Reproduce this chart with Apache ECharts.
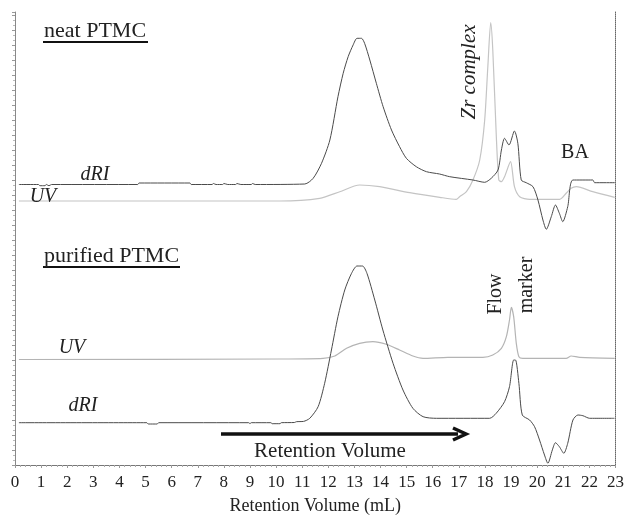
<!DOCTYPE html>
<html>
<head>
<meta charset="utf-8">
<script src="https://cdn.jsdelivr.net/npm/echarts@6/dist/echarts.min.js"></script>
<style>
html,body{margin:0;padding:0;background:#fff;}
#chart{width:627px;height:521px;}
</style>
</head>
<body>
<div id="chart"></div>
<script>
// retention volume (mL) vs detector signal (arbitrary offset units)
var neatDRI = [[0.15,280.5],[0.9,280.5],[0.95,279.3],[1.15,279.3],[1.2,280.5],[1.3,279.3],[1.4,280.5],[4.7,280.5],[4.75,282],[6.7,282],[6.75,280.5],
    [7.55,280.5],[7.6,281.5],[7.7,280.5],[7.95,280.5],[8.0,281.5],[8.15,280.5],[8.45,280.5],[8.5,281.5],[8.65,280.5],[9.05,280.5],[9.1,281.5],[9.2,280.5],
    [11.1,281],[11.42,286.7],[11.74,301.7],[12.06,325],[12.37,368.3],[12.57,391.7],[12.76,408.3],[12.95,420],[13.1,426.7],[13.27,426.7],
    [13.39,421.7],[13.59,405],[13.84,381.7],[14.1,358.3],[14.42,335],[14.73,318.3],[14.99,306.7],[15.37,298.3],[15.76,293.3],[16.26,291],
    [16.65,288.3],[17.54,285],[17.99,282.7],[18.24,286.7],[18.5,295],[18.63,315],[18.75,326.7],[18.92,320],[19.13,334],[19.26,321.7],
    [19.39,285],[19.58,282.3],[19.84,278.3],[20.03,265],[20.22,245],[20.35,235.7],[20.54,248.3],[20.7,260],[20.85,251.7],[20.98,243.3],
    [21.17,258.3],[21.37,285],[22.13,285],[22.2,282.3],[22.97,282.3]];
var neatUV = [[0.15,264],[10.14,264],[11.67,266.7],[12.44,273.3],[13.2,280],[13.97,278.3],[15.12,272.3],[16.27,267.7],[16.9,265.7],
    [17.03,268.3],[17.29,273.3],[17.54,285],[17.8,305],[17.99,345],[18.11,398.3],[18.22,442.3],[18.3,415],[18.43,331.7],[18.53,285],
    [18.63,283.3],[18.75,288.3],[18.98,303.3],[19.13,278.3],[19.33,268.3],[19.71,265.7],[20.86,265.7],[21.11,271.7],[21.3,276.7],
    [21.5,278.3],[22.13,273.3],[22.97,267.7]];
var purUV = [[0.15,105.5],[10.14,106],[11.8,106.7],[12.25,109],[12.7,116.7],[13.2,121.7],[13.71,123.3],[14.22,120.7],[14.73,115],
    [15.24,109],[15.63,106.7],[16.58,107.7],[17.92,107.7],[18.3,110],[18.63,116.7],[18.82,128.3],[18.94,145],[19.01,157.7],[19.1,148.3],
    [19.2,121.7],[19.3,108.3],[19.45,106.7],[21.11,106.7],[21.3,109],[21.63,107.7],[22.97,106.7]];
var purDRI = [[0.15,42.3],[5.05,42.3],[5.1,41],[5.45,41],[5.5,42.3],[8.95,42.3],[9.0,41.3],[9.05,42.3],[9.8,42.3],[9.85,41.3],[10.15,41.3],
    [10.2,42.3],[10.7,42.5],[10.78,43.3],[11.05,43.6],[11.29,46.7],[11.61,58.3],[11.86,81.7],[12.12,115],[12.37,148.3],[12.63,175],
    [12.89,191.7],[13.1,199],[13.31,199],[13.48,191.7],[13.78,165],[14.09,135],[14.48,101.7],[14.86,75],[15.24,56.7],[15.63,48.3],
    [16.14,46.7],[18.18,46.7],[18.43,51.7],[18.75,63.3],[18.94,78.3],[19.1,105],[19.17,105],[19.3,81.7],[19.43,50],[19.71,45],
    [19.9,38.3],[20.09,25],[20.28,10],[20.41,1.7],[20.58,15],[20.7,22.3],[20.85,18.3],[21.02,11.7],[21.17,21.7],[21.37,45],[21.56,50],
    [21.75,49.3],[22.01,46.7],[22.96,46.7]];

var serif = '"Liberation Serif", "DejaVu Serif", serif';

function txt(s, x, y, opt) {
    opt = opt || {};
    return {
        type: 'text', x: x, y: y, rotation: opt.rot || 0, z: 10,
        style: {
            text: s, fill: '#222', font: (opt.italic ? 'italic ' : '') + (opt.size || 20) + 'px ' + serif,
            align: opt.align || 'center', verticalAlign: 'middle'
        }
    };
}

function trace(data, color, w) {
    return {type: 'line', data: data, showSymbol: false, smooth: 0.25,
        lineStyle: {color: color, width: w}};
}

var myChart = echarts.init(document.getElementById('chart'));
myChart.setOption({
    animation: false,
    grid: {left: 15, right: 11, top: 12, bottom: 56},
    xAxis: {
        type: 'value', min: 0, max: 23, interval: 1,
        name: 'Retention Volume (mL)', nameLocation: 'middle', nameGap: 32,
        nameTextStyle: {fontFamily: serif, fontSize: 18, color: '#222'},
        axisLine: {lineStyle: {color: '#777', width: 1}},
        axisTick: {show: true, length: 3, lineStyle: {color: '#999'}},
        minorTick: {show: true, splitNumber: 5, length: 2, lineStyle: {color: '#aaa'}},
        axisLabel: {fontFamily: serif, fontSize: 17, color: '#222', margin: 9},
        splitLine: {show: false}
    },
    yAxis: [{
        type: 'value', min: 0, max: 453, interval: 15,
        axisLine: {show: true, lineStyle: {color: '#888'}},
        axisTick: {show: true, inside: false, length: 3, lineStyle: {color: '#999'}},
        minorTick: {show: true, splitNumber: 3, length: 2, lineStyle: {color: '#bbb'}},
        axisLabel: {show: false},
        splitLine: {show: false}
    }, {
        type: 'value', min: 0, max: 453, position: 'right',
        axisLine: {show: true, lineStyle: {color: '#666', type: 'dotted'}},
        axisTick: {show: false}, axisLabel: {show: false}, splitLine: {show: false}
    }],
    series: [
        trace(neatUV, '#c4c4c4', 1.2),
        trace(neatDRI, '#4a4a4a', 1),
        trace(purUV, '#b4b4b4', 1.2),
        trace(purDRI, '#4a4a4a', 1)
    ],
    graphic: [
        txt('neat PTMC', 44, 31, {align: 'left', size: 22}),
        {type: 'line', shape: {x1: 43, y1: 42, x2: 148, y2: 42}, style: {stroke: '#111', lineWidth: 2}},
        txt('purified PTMC', 44, 256, {align: 'left', size: 22}),
        {type: 'line', shape: {x1: 43, y1: 267, x2: 180, y2: 267}, style: {stroke: '#111', lineWidth: 2}},
        txt('dRI', 95, 175, {italic: true}),
        txt('UV', 43, 197, {italic: true}),
        txt('UV', 72, 348, {italic: true}),
        txt('dRI', 83, 406, {italic: true}),
        txt('Zr complex', 469, 72, {italic: true, rot: Math.PI / 2, size: 21}),
        txt('BA', 575, 153),
        txt('Flow', 496, 294, {rot: Math.PI / 2}),
        txt('marker', 527, 285, {rot: Math.PI / 2}),
        {type: 'line', shape: {x1: 221, y1: 434, x2: 458, y2: 434}, style: {stroke: '#111', lineWidth: 3.5}},
        {type: 'polyline', shape: {points: [[453, 428], [466, 434], [453, 440]]}, style: {stroke: '#111', lineWidth: 3.5, fill: null}},
        txt('Retention Volume', 330, 451, {size: 21})
    ]
});
</script>
</body>
</html>
